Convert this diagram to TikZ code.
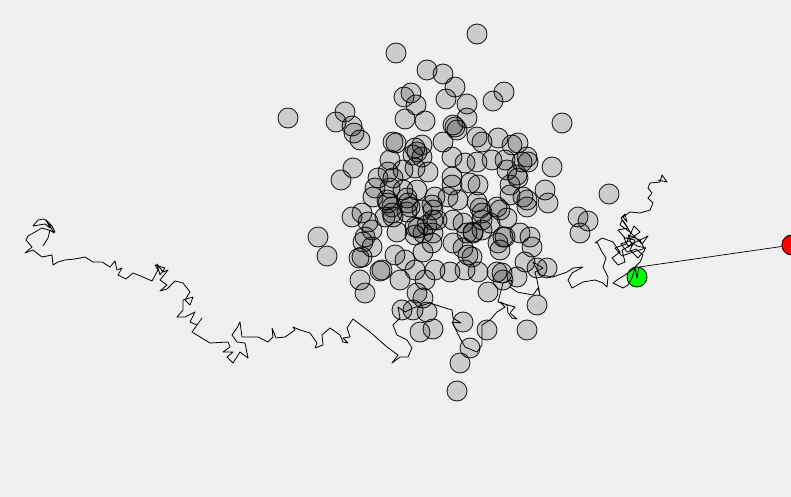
\documentclass[tikz,border=0pt]{standalone}
\begin{document}
\begin{tikzpicture}[x=1pt,y=-1pt,
  ball/.style={draw=black, draw opacity=0.85, fill=black, fill opacity=0.15, line width=0.9pt},
  walk/.style={draw=black, line width=0.8pt, line join=round},
  agent/.style={circle, draw=black, line width=0.8pt, minimum size=20pt, inner sep=0pt}]
\definecolor{bgc}{RGB}{240,240,240}
\definecolor{agentgreen}{RGB}{0,255,0}
\definecolor{targetred}{RGB}{255,0,0}
\fill[bgc] (0,0) rectangle (791,497);
\useasboundingbox (0,0) rectangle (791,497);

\foreach \x/\y in {
477/34, 396/53, 427/70, 443/74, 455/87, 404/97, 411/93, 416/105, 446/99, 467/104,
493/101, 504/92, 562/123, 288/118, 345/112, 336/122, 352/126, 354/133, 360/140, 405/119,
425/121, 467/118, 453/125, 455/127, 457/130, 443/142, 477/137, 482/142, 498/138, 512/145,
518/143, 393/142, 396/143, 422/145, 415/148, 417/152, 413/155, 422/157, 390/160, 353/168,
341/180, 388/172, 393/178, 403/170, 415/168, 428/172, 378/178, 375/188, 390/188, 403/190,
417/190, 373/197, 387/200, 388/203, 392/207, 407/198, 408/203, 410/207, 392/213, 407/212,
422/210, 432/205, 352/217, 362/213, 368/222, 372/230, 385/217, 393/217, 415/227, 418/228,
427/225, 433/220, 397/232, 318/237, 365/237, 327/256, 363/242, 372/247, 362/257, 359/258,
380/271, 382/270, 360/280, 365/293, 395/255, 400/280, 405/260, 415/270, 423/252, 432/243,
415/235, 423/233, 425/280, 417/293, 423/298, 402/310, 413/310, 427/312, 420/332, 433/329,
433/233, 453/243, 467/233, 473/233, 463/248, 468/255, 472/257, 498/243, 503/237, 500/250,
532/247, 525/262, 547/268, 537/268, 435/270, 450/272, 465/270, 478/272, 497/272, 502/273,
503/280, 517/277, 488/292, 537/305, 463/322, 487/330, 527/330, 470/348, 460/363, 457/391,
527/157, 522/162, 528/162, 517/175, 518/178, 552/167, 452/157, 465/163, 477/162, 492/160,
505/160, 507/170, 452/177, 452/185, 478/185, 470/183, 435/197, 448/197, 458/200, 433/210,
477/202, 480/208, 482/213, 497/207, 510/195, 510/185, 527/200, 523/197, 545/190, 548/203,
527/207, 507/218, 500/210, 437/220, 453/220, 463/223, 482/220, 490/223, 473/232, 482/230,
520/233, 530/237, 505/237, 609/194, 578/217, 588/221, 580/233}
  \draw[ball] (\x,\y) circle[radius=10pt];

% line from agent to target
\coordinate (walkend) at (639,267);
\node[agent, fill=targetred] (target) at (792,245) {};
\draw[black, line width=0.7pt] (walkend) -- (target.center);
\node[agent, fill=targetred] at (target.center) {};
\node[agent, fill=agentgreen] (agentnode) at (637,277) {};

% random walk
\draw[walk] (43,246) -- (48,238) -- (50,230) -- (54,233) -- (48,222) -- (44,219) -- (38,220) -- (33,226) -- (45,224) -- (50,228) -- (46,220) -- (52,226) -- (55,232) -- (42,228) -- (35,232) -- (28,236) -- (26,240) -- (32,247) -- (25,253) -- (33,250) -- (42,257) -- (52,255) -- (53,265) -- (58,262) -- (65,260) -- (75,259) -- (85,257) -- (93,262) -- (102,262) -- (110,267) -- (115,261) -- (117,270) -- (122,268) -- (118,275) -- (126,279) -- (133,273) -- (143,277) -- (152,281) -- (158,270) -- (155,265) -- (165,268) -- (160,275) -- (157,264) -- (163,272) -- (168,270) -- (160,280) -- (167,285) -- (160,291) -- (167,289) -- (175,281) -- (183,283) -- (190,292) -- (185,300) -- (190,305) -- (193,297) -- (183,300) -- (183,310) -- (177,317) -- (185,317) -- (195,312) -- (190,322) -- (197,325) -- (202,318) -- (192,332) -- (210,343) -- (228,342) -- (230,347) -- (223,352) -- (233,352) -- (227,357) -- (233,363) -- (240,352) -- (248,358) -- (245,343) -- (237,342) -- (232,335) -- (237,328) -- (240,322) -- (242,337) -- (258,337) -- (268,342) -- (273,337) -- (272,328) -- (276,338) -- (285,337) -- (295,330) -- (293,327) -- (300,330) -- (310,333) -- (317,343) -- (315,348) -- (323,345) -- (322,335) -- (330,328) -- (340,335) -- (343,342) -- (348,343) -- (343,338) -- (350,337) -- (347,328) -- (353,319) -- (370,332) -- (387,347) -- (398,355) -- (392,363) -- (400,357) -- (408,357) -- (412,348) -- (407,340) -- (397,335) -- (393,325) -- (400,318) -- (398,307) -- (405,312) -- (413,308) -- (430,303) -- (442,307) -- (452,310) -- (453,318) -- (461,323) -- (452,322) -- (460,338) -- (465,347) -- (477,352) -- (482,345) -- (482,325) -- (490,320) -- (497,312) -- (505,307) -- (500,302) -- (507,305) -- (508,313) -- (512,318) -- (517,319) -- (510,313) -- (515,307) -- (498,302) -- (503,283) -- (512,280) -- (510,287) -- (517,292) -- (533,295) -- (538,288) -- (540,295) -- (537,280) -- (535,272) -- (543,268) -- (533,262) -- (540,275) -- (553,277) -- (567,272) -- (573,268) -- (583,267) -- (572,273) -- (568,280) -- (572,288) -- (583,282) -- (595,280) -- (603,283) -- (607,287) -- (608,277) -- (603,267) -- (606,258) -- (602,252) -- (597,242) -- (595,243) -- (602,238) -- (613,242) -- (620,252) -- (612,258) -- (618,265) -- (625,262) -- (622,250) -- (632,245) -- (628,235) -- (640,240) -- (645,250) -- (638,258) -- (630,250) -- (635,240) -- (625,238) -- (618,230) -- (628,228) -- (622,220) -- (620,225) -- (630,232) -- (642,244) -- (648,236) -- (636,242) -- (628,246) -- (624,238) -- (632,238) -- (640,232) -- (634,226) -- (626,244) -- (615,248) -- (622,256) -- (633,252) -- (646,248) -- (637,246) -- (629,241) -- (621,244) -- (627,252) -- (636,249) -- (643,255) -- (640,262) -- (632,270) -- (625,275) -- (617,280) -- (613,283) -- (623,288) -- (628,285) -- (632,278) -- (635,268) -- (637,278) -- (walkend);
\draw[walk] (630,232) -- (624,222) -- (621,218) -- (625,214) -- (627,222) -- (623,217) -- (630,212) -- (640,213) -- (650,210) -- (653,203) -- (648,198) -- (652,193) -- (648,188) -- (650,183) -- (660,182) -- (662,175) -- (667,182) -- (658,180);
\end{tikzpicture}
\end{document}
